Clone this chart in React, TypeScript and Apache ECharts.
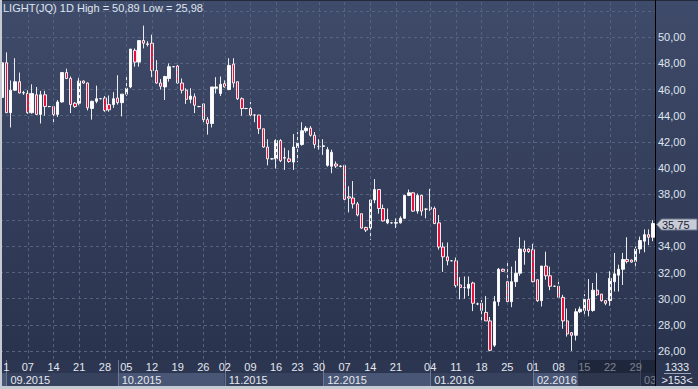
import React, { useEffect, useRef } from "react";
import * as echarts from "echarts";

// ---- data ----
const openPrices = [
  45.4, 48.05, 44.23, 45.95, 46.6, 45.74, 45.7, 44.23, 45.6, 44.1,
  45.6, 44.7, 44.7, 44.1, 45.05, 47.3, 46.85, 44.95, 44.95, 46.65,
  46.5, 44.55, 45.1, 45.3, 45.35, 44.85, 44.85, 45.35, 45.0, 45.65,
  46.2, 49.0, 48.1, 49.75, 49.5, 49.55, 47.45, 46.5, 46.2, 46.85,
  47.75, 47.8, 46.5, 45.95, 45.25, 45.45, 44.7, 44.9, 43.7, 43.4,
  46.1, 45.7, 46.45, 46.0, 47.95, 46.6, 45.3, 44.55, 44.55, 44.05,
  44.05, 43.0, 41.6, 40.7, 40.7, 42.1, 40.8, 40.7, 40.45, 41.55,
  41.8, 42.85, 43.05, 42.5, 41.65, 41.65, 40.2, 40.13, 40.3, 40.15,
  40.2, 37.8, 37.7, 37.25, 36.5, 35.45, 35.4, 37.55, 38.35, 36.9,
  35.8, 35.8, 35.78, 35.8, 36.15, 37.9, 38.1, 36.7, 37.9, 36.85,
  37.0, 36.9, 35.8, 33.95, 33.2, 32.9, 32.9, 31.05, 30.85, 30.8,
  31.2, 29.6, 29.65, 28.95, 28.3, 26.44, 29.77, 32.25, 31.3, 29.77,
  31.3, 31.95, 33.8, 33.8, 33.75, 31.45, 29.85, 32.5, 31.75, 30.95,
  30.95, 30.1, 28.3, 27.4, 27.2, 29.0, 29.1, 29.95, 29.1, 30.65,
  30.35, 29.85, 29.85, 31.3, 31.8, 32.25, 33.0, 32.95, 32.85, 33.8,
  34.4, 34.9, 34.7,
];
const closePrices = [
  48.05, 44.23, 45.95, 46.6, 45.74, 45.76, 44.23, 45.7, 44.1, 45.6,
  44.7, 44.7, 44.1, 45.05, 47.3, 46.85, 44.85, 44.7, 46.65, 46.5,
  44.6, 45.1, 45.3, 45.3, 44.4, 44.45, 45.3, 45.0, 45.65, 46.1,
  49.1, 48.1, 49.75, 49.55, 49.45, 47.45, 46.5, 46.25, 47.0, 47.75,
  47.75, 46.5, 45.95, 45.25, 45.5, 44.8, 44.7, 43.7, 43.4, 46.2,
  46.2, 46.4, 46.2, 47.85, 46.5, 45.3, 44.55, 44.55, 44.05, 44.05,
  43.0, 41.6, 40.7, 40.7, 42.1, 40.55, 40.75, 40.5, 41.6, 41.9,
  42.85, 43.05, 42.5, 41.8, 41.65, 41.7, 41.4, 41.2, 40.15, 40.12,
  37.6, 37.7, 37.25, 36.4, 35.4, 35.25, 37.55, 38.35, 36.9, 35.95,
  36.05, 35.8, 35.82, 36.15, 37.9, 38.1, 36.7, 37.9, 36.7, 36.85,
  36.85, 35.75, 33.95, 33.2, 32.9, 32.9, 31.0, 30.85, 30.85, 31.1,
  29.65, 29.6, 29.1, 28.3, 26.05, 29.77, 32.25, 32.1, 29.77, 31.3,
  31.95, 33.8, 33.6, 33.6, 31.3, 29.85, 32.5, 31.75, 30.95, 30.95,
  30.1, 28.3, 27.3, 27.2, 29.0, 29.2, 29.95, 29.1, 30.65, 30.3,
  29.85, 29.65, 31.55, 31.9, 32.25, 33.0, 32.85, 32.8, 33.8, 34.45,
  34.9, 34.7, 35.75,
];
const lowPrices = [
  45.3, 44.2, 43.1, 45.9, 45.7, 45.6, 44.15, 44.15, 44.05, 43.4,
  44.0, 44.65, 43.5, 43.9, 45.0, 46.8, 44.2, 44.6, 44.8, 46.45,
  44.4, 43.7, 44.95, 45.25, 44.3, 44.3, 44.6, 44.85, 43.95, 45.5,
  46.1, 47.75, 47.75, 49.15, 49.3, 46.95, 46.45, 46.0, 45.2, 46.6,
  47.7, 46.45, 45.7, 44.9, 44.95, 44.2, 44.65, 43.45, 42.55, 43.1,
  45.7, 45.5, 46.15, 45.95, 46.15, 45.2, 44.0, 44.5, 43.9, 43.5,
  42.6, 41.55, 40.2, 40.65, 39.95, 40.45, 39.85, 40.4, 39.85, 40.45,
  41.7, 42.7, 42.4, 41.5, 41.4, 41.0, 40.1, 39.6, 40.0, 40.05,
  37.5, 36.6, 36.9, 36.3, 35.35, 35.1, 34.5, 37.3, 36.5, 35.9,
  35.7, 35.75, 35.4, 35.75, 36.1, 37.85, 36.65, 36.5, 36.35, 36.15,
  36.7, 35.7, 33.75, 32.05, 32.55, 32.85, 30.85, 29.95, 30.0, 30.2,
  29.05, 29.5, 28.3, 28.3, 25.98, 26.3, 29.45, 32.05, 29.75, 29.35,
  30.9, 31.75, 32.6, 33.5, 31.25, 29.75, 29.4, 31.45, 30.65, 30.9,
  30.0, 27.7, 27.1, 26.0, 26.8, 28.9, 28.75, 28.65, 29.0, 30.2,
  29.77, 29.5, 29.45, 30.55, 30.55, 31.05, 32.7, 32.75, 32.25, 33.45,
  33.55, 34.1, 34.4,
];
const highPrices = [
  48.1, 48.85, 46.7, 48.4, 47.3, 45.9, 45.95, 46.4, 46.2, 45.9,
  45.9, 44.75, 44.7, 45.2, 47.35, 47.6, 47.0, 45.05, 46.9, 46.7,
  46.55, 45.15, 46.3, 45.35, 45.5, 45.55, 45.8, 47.1, 45.65, 47.0,
  49.1, 49.15, 49.75, 50.89, 49.7, 50.2, 48.25, 46.8, 47.05, 48.0,
  47.8, 48.0, 46.85, 46.1, 46.1, 45.7, 44.75, 44.9, 43.9, 46.2,
  46.95, 47.0, 46.7, 48.4, 48.4, 46.6, 45.4, 44.6, 45.05, 44.1,
  44.05, 43.0, 42.2, 40.75, 42.2, 42.2, 41.55, 41.35, 42.6, 42.75,
  43.5, 43.2, 43.2, 42.75, 42.2, 42.2, 41.6, 41.4, 40.5, 40.2,
  40.2, 38.6, 39.0, 37.4, 36.5, 35.5, 37.55, 39.15, 38.35, 37.2,
  36.9, 35.85, 36.15, 36.3, 37.95, 38.35, 38.15, 38.05, 37.95, 36.9,
  38.4, 37.05, 36.4, 34.3, 34.3, 32.95, 33.15, 31.65, 31.7, 31.7,
  31.3, 29.7, 29.9, 30.2, 28.6, 30.2, 32.35, 32.3, 32.75, 32.45,
  32.9, 34.7, 34.45, 33.85, 34.2, 31.45, 32.5, 33.6, 32.45, 31.0,
  31.3, 30.3, 29.25, 27.45, 29.25, 29.4, 30.35, 31.5, 31.2, 31.95,
  30.35, 29.9, 32.1, 33.5, 32.6, 33.5, 34.7, 33.0, 34.0, 34.75,
  35.3, 35.3, 36.0,
];

// session index of each week label, and the label text
const weekTickIdx = [1, 6, 12, 18, 24, 29, 35, 41, 47, 52, 58, 64, 69, 74, 80, 86, 92, 100, 106, 112, 118, 124, 130, 136, 142, 148];
const weekTickLabels = ["1", "07", "14", "21", "28", "05", "12", "19", "26", "02", "09", "16", "23", "30", "07", "14", "21", "04", "11", "18", "25", "01", "08", "15", "22", "29"];
// first session of each month, and month labels
const monthStartIdx = [1, 27, 52, 75, 100, 124, 149];
const monthLabels = ["09.2015", "10.2015", "11.2015", "12.2015", "01.2016", "02.2016", "03.2016"];
const yTickMin = 26;
const yTickMax = 50;
const volumeText = "1333";
const barsText = ">153<";
const symbolName = "LIGHT(JQ) 1D";

const sessions = openPrices.map((_, i) => String(i));

const FONT = '"Liberation Sans Narrow", "Arial Narrow", "Liberation Sans", Arial, sans-serif';
const fmt = (v: number) => v.toFixed(2).replace(".", ",");

export default function App() {
  const ref = useRef<HTMLDivElement>(null);
  useEffect(() => {
    const el = ref.current!;
    const chart = echarts.init(el, undefined, { renderer: "svg", width: 698, height: 389 });
    const hi = Math.max(...highPrices);
    const lo = Math.min(...lowPrices);
    const last = closePrices[closePrices.length - 1];
    const candles = openPrices.map((o, i) => [o, closePrices[i], lowPrices[i], highPrices[i]]);
    const gridColor = "#56637f";

    chart.setOption({
      animation: false,
      backgroundColor: {
        type: "linear", x: 0, y: 0, x2: 0, y2: 1,
        colorStops: [{ offset: 0, color: "#3f4b6a" }, { offset: 1, color: "#28314b" }],
      },
      title: {
        text: `${symbolName} High = ${fmt(hi)} Low = ${fmt(lo)}`,
        left: 3, top: 2, padding: 0,
        textStyle: { color: "#dfe5ef", fontSize: 11, fontWeight: "normal", fontFamily: FONT },
      },
      grid: [{ left: 0, top: 0, width: 655, height: 377.1, show: false }],
      xAxis: [{
        type: "category", data: sessions, boundaryGap: true,
        axisLine: { show: false }, axisTick: { show: false }, axisLabel: { show: false }, splitLine: { show: false },
      }],
      yAxis: [{
        type: "value", position: "right", min: 24, max: 52.852, interval: 2,
        axisLine: { show: true, lineStyle: { color: "#000000", width: 1 } },
        axisTick: { show: false },
        splitLine: { show: true, lineStyle: { color: gridColor, type: [3, 3], width: 1 } },
        axisLabel: {
          color: "#dfe5ef", fontSize: 11, fontFamily: FONT, margin: 3,
          // ticks inside the range; the one under the last-price tag is covered by it
          formatter: (v: number) =>
            v >= yTickMin - 0.01 && v <= yTickMax + 0.01 && Math.abs(v - last) > 0.6 ? fmt(v) : "",
        },
      }],
      series: [
        {
          type: "line", data: [], silent: true, z: 1,
          markLine: {
            silent: true, symbol: ["none", "none"], label: { show: false },
            lineStyle: { color: gridColor, type: [3, 3], width: 1 },
            emphasis: { disabled: true },
            data: weekTickIdx.filter((i) => i > 2).map((i) => ({ xAxis: i })),
          },
        },
        {
          type: "candlestick", data: candles, barWidth: 2.9, z: 2,
          itemStyle: { color: "#ffffff", color0: "#e8103c", borderColor: "#ffffff", borderColor0: "#ffffff", borderWidth: 0.9 },
        },
      ],
    });

    const px = (i: number) => chart.convertToPixel({ xAxisIndex: 0 }, i) as unknown as number;
    const py = (v: number) => chart.convertToPixel({ yAxisIndex: 0 }, v) as unknown as number;
    const band = px(1) - px(0);
    const axisX = 655;
    const stripTop = 360;
    const monthTop = 373;
    const monthBottom = 386;
    const txt = (text: string, x: number, y: number, align: string, fill: string, z: number, extra: any = {}) => ({
      type: "text", z, x, y,
      style: { text, fill, fontSize: 11, fontFamily: FONT, textAlign: align, textVerticalAlign: "middle", align, verticalAlign: "middle", ...extra },
    });

    const els: any[] = [];
    // strip background
    els.push({ type: "rect", z: 50, shape: { x: 0, y: stripTop, width: 698, height: 29 }, style: { fill: "#2c3651" } });
    // month boxes
    els.push({ type: "rect", z: 51, shape: { x: 0, y: monthTop, width: px(monthStartIdx[0]), height: monthBottom - monthTop }, style: { fill: "#4a5675" } });
    monthStartIdx.forEach((idx, k) => {
      const x0 = px(idx);
      const isLast = k + 1 >= monthStartIdx.length;
      const x1 = !isLast ? px(monthStartIdx[k + 1]) : axisX;
      els.push({ type: "rect", z: 51, shape: { x: x0, y: monthTop, width: x1 - x0, height: monthBottom - monthTop }, style: { fill: k % 2 === 0 ? "#37425f" : "#4a5675" } });
      els.push({ type: "line", z: 52, shape: { x1: Math.round(x0) + 0.5, y1: stripTop, x2: Math.round(x0) + 0.5, y2: monthBottom }, style: { stroke: "#6b7794", lineWidth: 1 } });
      const extra = isLast ? { width: x1 - x0 + 4, overflow: "truncate", ellipsis: "" } : {};
      els.push(txt(monthLabels[k], x0 + 4, (monthTop + monthBottom) / 2 + 0.5, "left", "#e3e8f0", 53, extra));
    });
    // day labels
    weekTickIdx.forEach((idx, k) => {
      els.push(txt(weekTickLabels[k], px(idx), 367, "center", "#e3e8f0", 53));
    });
    // dimmed (scrolled) region
    const dimX = px(135) - band / 2;
    els.push({ type: "rect", z: 54, shape: { x: dimX, y: stripTop, width: axisX - dimX, height: monthBottom - stripTop }, style: { fill: "rgba(16,22,38,0.5)" } });
    // right-bottom panel
    els.push({ type: "rect", z: 55, shape: { x: axisX, y: stripTop, width: 698 - axisX, height: monthBottom - stripTop }, style: { fill: "#2c3651" } });
    els.push(txt(volumeText, 677, 367, "center", "#e3e8f0", 56));
    els.push({ type: "line", z: 56, shape: { x1: 664, y1: 373.5, x2: 691, y2: 373.5 }, style: { stroke: "#9aa3b6", lineWidth: 1 } });
    els.push(txt(barsText, 677, 380, "center", "#e3e8f0", 56));
    // bottom & left frame
    els.push({ type: "rect", z: 57, shape: { x: 0, y: monthBottom, width: 698, height: 3 }, style: { fill: "#c6cad2" } });
    els.push({ type: "rect", z: 57, shape: { x: 0, y: 0, width: 2, height: 389 }, style: { fill: "#c6cad2" } });
    els.push({ type: "line", z: 57, shape: { x1: 2, y1: 0.5, x2: 698, y2: 0.5 }, style: { stroke: "#222a3c", lineWidth: 1 } });
    els.push({ type: "line", z: 57, shape: { x1: axisX + 0.5, y1: 0, x2: axisX + 0.5, y2: monthBottom }, style: { stroke: "#000000", lineWidth: 1 } });
    // last price tag
    const yl = Math.round(py(last)) + 0.5;
    els.push({
      type: "polygon", z: 58,
      shape: { points: [[656.5, yl], [661.5, yl - 5.5], [697, yl - 5.5], [697, yl + 5.5], [661.5, yl + 5.5]] },
      style: { fill: "#c8ccd6", stroke: "#6f788c", lineWidth: 1 },
    });
    els.push(txt(fmt(last), 662, yl + 0.5, "left", "#1b2233", 59));

    chart.setOption({ graphic: { elements: els } });
    return () => chart.dispose();
  }, []);
  return <div ref={ref} style={{ position: "fixed", left: 0, top: 0, width: 698, height: 389 }} />;
}
